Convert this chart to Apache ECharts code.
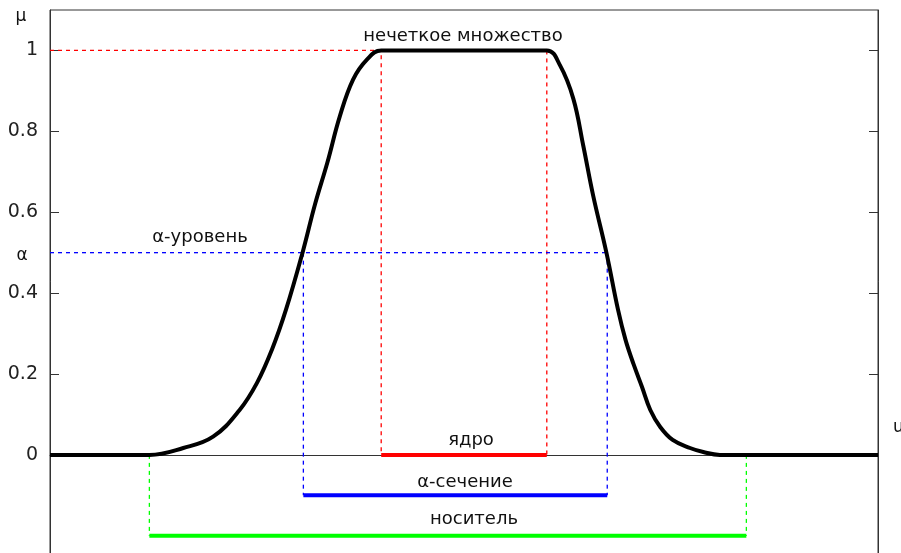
<!DOCTYPE html>
<html>
<head>
<meta charset="utf-8">
<script src="https://cdn.jsdelivr.net/npm/echarts@6/dist/echarts.min.js"></script>
<style>html,body{margin:0;padding:0;background:#fff;}#c{width:901px;height:553px;}</style>
</head>
<body>
<div id="c"></div>
<script>
// membership function samples (u, mu)
const uCurve  = [0, 1.2, 1.61, 1.97, 2.29, 2.5, 2.68, 2.85, 3.05, 3.2, 3.35, 3.5, 3.66, 3.83, 4.0, 6.0, 6.16, 6.32, 6.44, 6.56, 6.72, 6.86, 6.95, 7.05, 7.15, 7.25, 7.37, 7.52, 7.73, 7.89, 8.09, 10];
const muCurve = [0, 0, 0.017, 0.045, 0.111, 0.178, 0.26, 0.359, 0.5, 0.619, 0.723, 0.837, 0.928, 0.978, 1, 1, 0.963, 0.881, 0.765, 0.641, 0.5, 0.359, 0.285, 0.223, 0.168, 0.111, 0.069, 0.037, 0.017, 0.007, 0, 0];
const yTicks = [0, 0.2, 0.4, 0.6, 0.8, 1];
const alphaLevel = 0.5;
const coreRange = [4.0, 6.0];
const alphaCut = [3.06, 6.73];
const support = [1.2, 8.41];
const coreY = 0, cutY = -0.1, supportY = -0.2;
const labels = {
  title: 'нечеткое множество', level: 'α-уровень', core: 'ядро',
  cut: 'α-сечение', supp: 'носитель', mu: 'μ', alpha: 'α', u: 'u'
};

const chart = echarts.init(document.getElementById('c'));
const curve = uCurve.map((u, i) => [u, muCurve[i]]);
function seg(pts, color, width, dashed, z) {
  return {
    type: 'line', data: pts, symbol: 'none', silent: true, z: z,
    lineStyle: { color: color, width: width, type: dashed ? [4, 4] : 'solid' }
  };
}
const font = 'DejaVu Sans';
function txt(x, y, s, align, size) {
  return { type: 'text', x: x, y: y, style: { text: s, font: (size || 18) + 'px "' + font + '"', fill: '#111', align: align || 'center', verticalAlign: 'middle' } };
}
chart.setOption({
  animation: false,
  grid: { left: 50, right: 23, top: 10, height: 546, outerBoundsMode: 'none', containLabel: false,
          show: true, borderColor: '#333', borderWidth: 1 },
  xAxis: { type: 'value', min: 0, max: 10, axisLine: { show: true, onZero: true, lineStyle: { color: '#333', width: 1 } },
           axisTick: { show: false }, axisLabel: { show: false }, splitLine: { show: false } },
  yAxis: [
    { type: 'value', min: -0.25, max: 1.1, position: 'left',
      axisLine: { show: true, onZero: false, lineStyle: { color: '#333' } },
      axisTick: { show: true, inside: true, length: 9, customValues: yTicks, lineStyle: { color: '#333' } },
      axisLabel: { show: true, customValues: yTicks, margin: 12, color: '#222', fontFamily: font, fontSize: 19 },
      splitLine: { show: false } },
    { type: 'value', min: -0.25, max: 1.1, position: 'right',
      axisLine: { show: true, onZero: false, lineStyle: { color: '#333' } },
      axisTick: { show: true, inside: true, length: 9, customValues: yTicks, lineStyle: { color: '#333' } },
      axisLabel: { show: false }, splitLine: { show: false } }
  ],
  series: [
    seg([[0, 1], [coreRange[0], 1], [coreRange[0], coreY]], '#ff0000', 1.3, true, 2),
    seg([[coreRange[1], 1], [coreRange[1], coreY]], '#ff0000', 1.3, true, 2),
    seg([[0, alphaLevel], [alphaCut[1], alphaLevel]], '#0000ff', 1.3, true, 2),
    seg([[alphaCut[0], alphaLevel], [alphaCut[0], cutY]], '#0000ff', 1.3, true, 2),
    seg([[alphaCut[1], alphaLevel], [alphaCut[1], cutY]], '#0000ff', 1.3, true, 2),
    seg([[support[0], 0], [support[0], supportY]], '#00ff00', 1.3, true, 2),
    seg([[support[1], 0], [support[1], supportY]], '#00ff00', 1.3, true, 2),
    seg([[coreRange[0], coreY], [coreRange[1], coreY]], '#ff0000', 4, false, 3),
    seg([[alphaCut[0], cutY], [alphaCut[1], cutY]], '#0000ff', 4, false, 3),
    seg([[support[0], supportY], [support[1], supportY]], '#00ff00', 4, false, 3),
    { type: 'line', data: curve, symbol: 'none', silent: true, z: 5, smooth: 0.4,
      lineStyle: { color: '#000', width: 4 } }
  ],
  graphic: [
    txt(463, 36, labels.title),
    txt(200, 237, labels.level),
    txt(471, 440, labels.core),
    txt(465, 482, labels.cut),
    txt(474, 519, labels.supp),
    txt(21, 17, labels.mu, 'center', 17),
    txt(22, 256, labels.alpha, 'center', 17),
    txt(893, 428, labels.u, 'left', 17)
  ]
});
</script>
</body>
</html>
